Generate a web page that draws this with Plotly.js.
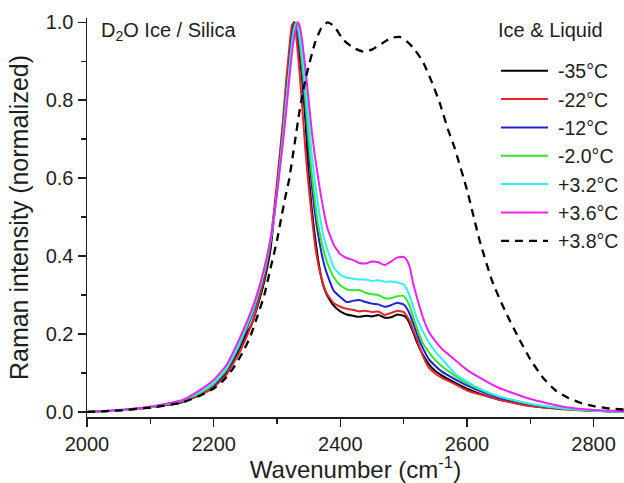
<!DOCTYPE html>
<html>
<head>
<meta charset="utf-8">
<script src="https://cdn.plot.ly/plotly-3.0.1.min.js"></script>
<style>html,body{margin:0;padding:0;background:#fff;}#chart{width:624px;height:483px;}</style>
</head>
<body>
<div id="chart"></div>
<script>
// Wavenumber grid (cm^-1) for the ice/liquid spectra
const wavenumber = [2000,2050,2100,2150,2180,2200,2220,2240,2250,2260,
  2270,2280,2290,2300,2305,2310,2315,2318,2321,2324,
  2327,2330,2333,2336,2340,2345,2350,2355,2360,2365,
  2370,2375,2380,2390,2400,2410,2420,2430,2440,2450,
  2460,2470,2480,2490,2500,2505,2510,2515,2520,2530,
  2540,2550,2560,2580,2600,2620,2650,2700,2750,2800,2850];

const m35C = [0,0.004,0.012,0.025,0.045,0.065,0.1,0.16,0.195,0.225,
  0.275,0.335,0.42,0.575,0.66,0.74,0.835,0.885,0.94,0.985,
  1.0,0.99,0.955,0.91,0.85,0.745,0.61,0.52,0.45,0.39,
  0.345,0.315,0.297,0.272,0.258,0.25,0.247,0.244,0.247,0.245,
  0.249,0.242,0.243,0.25,0.247,0.24,0.225,0.205,0.183,0.148,
  0.122,0.105,0.094,0.076,0.06,0.047,0.032,0.016,0.008,0.003,0.001];

const m22C = [0,0.004,0.012,0.027,0.045,0.063,0.095,0.15,0.185,0.225,
  0.28,0.345,0.44,0.59,0.67,0.76,0.86,0.91,0.96,0.995,
  0.995,0.97,0.92,0.865,0.78,0.67,0.58,0.5,0.43,0.38,
  0.345,0.318,0.3,0.279,0.27,0.265,0.262,0.258,0.26,0.256,
  0.258,0.249,0.254,0.26,0.256,0.246,0.232,0.21,0.19,0.145,
  0.113,0.098,0.088,0.072,0.055,0.045,0.032,0.015,0.007,0.003,0.001];

const m12C = [0,0.004,0.012,0.028,0.05,0.07,0.105,0.165,0.205,0.245,
  0.295,0.355,0.44,0.57,0.65,0.73,0.82,0.87,0.925,0.97,
  0.995,0.995,0.97,0.93,0.865,0.77,0.67,0.58,0.51,0.455,
  0.41,0.375,0.35,0.31,0.295,0.282,0.285,0.287,0.282,0.278,
  0.276,0.27,0.274,0.28,0.276,0.266,0.25,0.228,0.205,0.165,
  0.135,0.118,0.104,0.085,0.068,0.054,0.037,0.019,0.009,0.003,0.001];

const m2C = [0,0.004,0.012,0.028,0.05,0.072,0.108,0.17,0.21,0.25,
  0.3,0.36,0.44,0.56,0.64,0.72,0.81,0.86,0.91,0.955,
  0.985,1.0,0.985,0.95,0.89,0.8,0.7,0.61,0.54,0.48,
  0.44,0.405,0.38,0.345,0.325,0.315,0.312,0.313,0.306,0.302,
  0.3,0.292,0.292,0.297,0.298,0.287,0.27,0.244,0.22,0.178,
  0.153,0.133,0.118,0.094,0.073,0.058,0.04,0.02,0.009,0.003,0.001];

const p32C = [0,0.004,0.013,0.029,0.053,0.075,0.112,0.175,0.215,0.255,
  0.305,0.365,0.445,0.56,0.635,0.71,0.8,0.85,0.9,0.945,
  0.975,0.995,0.995,0.97,0.92,0.84,0.75,0.66,0.59,0.53,
  0.48,0.44,0.415,0.37,0.352,0.345,0.342,0.34,0.34,0.336,
  0.338,0.334,0.335,0.332,0.327,0.315,0.296,0.27,0.244,0.208,
  0.178,0.155,0.137,0.1,0.078,0.06,0.04,0.021,0.01,0.004,0.001];

const p36C = [0,0.005,0.014,0.03,0.058,0.082,0.12,0.185,0.222,0.262,
  0.31,0.37,0.445,0.56,0.63,0.7,0.78,0.83,0.88,0.925,
  0.96,0.985,1.0,0.99,0.95,0.88,0.8,0.72,0.655,0.6,
  0.55,0.505,0.47,0.428,0.405,0.395,0.39,0.382,0.381,0.386,
  0.384,0.377,0.386,0.396,0.398,0.39,0.37,0.33,0.3,0.245,
  0.205,0.182,0.163,0.135,0.108,0.088,0.062,0.033,0.014,0.005,0.002];

// Liquid spectrum (+3.8 °C), own wavenumber grid
const wavenumberLiquid = [2000,2050,2100,2150,2180,2200,2215,2230,2245,2257,
  2270,2280,2290,2300,2307,2313,2319,2328,2336,2346,
  2360,2370,2380,2390,2405,2420,2436,2450,2465,2480,
  2495,2505,2515,2530,2545,2557,2570,2580,2600,2620,
  2640,2660,2680,2700,2720,2740,2760,2780,2800,2825,2850];
const p38C = [0,0.004,0.011,0.024,0.043,0.06,0.08,0.11,0.15,0.19,
  0.25,0.3,0.37,0.44,0.5,0.55,0.595,0.69,0.776,0.861,
  0.947,0.985,1.0,0.99,0.955,0.935,0.925,0.93,0.945,0.96,
  0.962,0.951,0.935,0.9,0.845,0.793,0.725,0.68,0.57,0.44,
  0.335,0.26,0.195,0.135,0.088,0.055,0.036,0.023,0.015,0.009,0.006];

const seriesNames = ['-35°C','-22°C','-12°C','-2.0°C','+3.2°C','+3.6°C','+3.8°C'];
const seriesColors = ['#000000','#e8242a','#1f22d4','#33e533','#33eef0','#ee22ee','#000000'];
const iceSeries = [m35C, m22C, m12C, m2C, p32C, p36C];

const traces = iceSeries.map((ys, i) => ({
  x: wavenumber, y: ys, type: 'scatter', mode: 'lines',
  name: seriesNames[i], legendgroup: 'g' + i,
  line: {color: seriesColors[i], width: 2, shape: 'spline', smoothing: 0.4}
}));
traces.push({
  x: wavenumberLiquid, y: p38C, type: 'scatter', mode: 'lines',
  name: seriesNames[6], legendgroup: 'g6',
  line: {color: seriesColors[6], width: 2.3, dash: '8px,6px', shape: 'spline', smoothing: 0.5}
});

const FONT = 'Arial, "Liberation Sans", sans-serif';
const layout = {
  width: 624, height: 483,
  margin: {l: 87, r: 0, t: 18, b: 66},
  paper_bgcolor: '#fff', plot_bgcolor: '#fff',
  font: {family: FONT, size: 20, color: '#1e1e1e'},
  showlegend: true,
  legend: {
    x: 0.766, xanchor: 'left', y: 0.916, yanchor: 'top',
    bgcolor: 'rgba(0,0,0,0)', borderwidth: 0,
    font: {family: FONT, size: 19.5, color: '#1e1e1e'},
    tracegroupgap: 0, itemwidth: 50
  },
  xaxis: {
    range: [2000, 2848], showgrid: false, zeroline: false,
    showline: true, linecolor: '#1e1e1e', linewidth: 1.5, mirror: false,
    ticks: 'outside', ticklen: 8, tickwidth: 1.5, tickcolor: '#1e1e1e',
    dtick: 200, tick0: 2000, tickformat: 'd',
    tickfont: {family: FONT, size: 20, color: '#1e1e1e'},
    minor: {ticks: 'outside', ticklen: 5, tickwidth: 1.5, tickcolor: '#1e1e1e', dtick: 100, tick0: 2000, showgrid: false},
    title: {text: 'Wavenumber (cm<sup>-1</sup>)', font: {family: FONT, size: 24, color: '#1e1e1e'}, standoff: 8}
  },
  yaxis: {
    range: [-0.013, 1.011], showgrid: false, zeroline: false,
    showline: true, linecolor: '#1e1e1e', linewidth: 1.5, mirror: false,
    ticks: 'outside', ticklen: 8, tickwidth: 1.5, tickcolor: '#1e1e1e',
    dtick: 0.2, tick0: 0, tickformat: '.1f',
    tickfont: {family: FONT, size: 20, color: '#1e1e1e'},
    minor: {ticks: 'outside', ticklen: 5, tickwidth: 1.5, tickcolor: '#1e1e1e', dtick: 0.1, tick0: 0, showgrid: false},
    title: {text: 'Raman intensity (normalized)', font: {family: FONT, size: 25, color: '#1e1e1e'}, standoff: 10}
  },
  annotations: [{
    text: 'D<sub>2</sub>O Ice / Silica', xref: 'paper', yref: 'paper',
    x: 0.022, y: 1.003, xanchor: 'left', yanchor: 'top', showarrow: false,
    font: {family: FONT, size: 20, color: '#1e1e1e'}
  }, {
    text: 'Ice & Liquid', xref: 'paper', yref: 'paper',
    x: 0.762, y: 1.003, xanchor: 'left', yanchor: 'top', showarrow: false,
    font: {family: FONT, size: 20, color: '#1e1e1e'}
  }]
};

Plotly.newPlot('chart', traces, layout, {displayModeBar: false, staticPlot: true}).then(() => {
  document.querySelectorAll('.legendlines path').forEach(p => p.setAttribute('d', 'M3,0h47'));
});
</script>
</body>
</html>
